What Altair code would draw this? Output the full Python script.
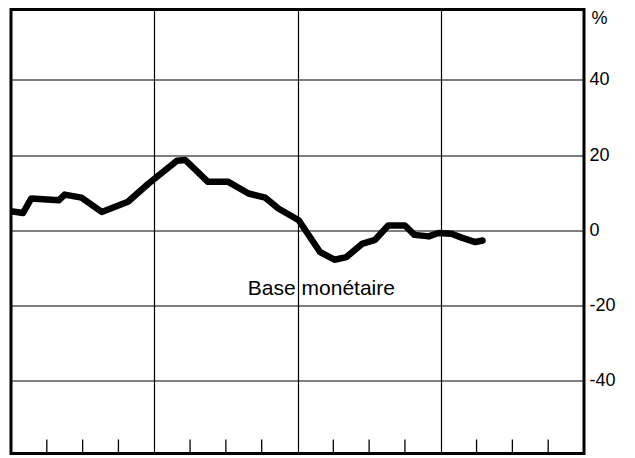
import altair as alt
import pandas as pd

# Time position (months from start of the 4-year span) and 12-month change, %
months = [0, 1.0, 1.7, 4.0, 4.5, 5.9, 7.6, 9.8, 11.5, 13.9, 14.6, 16.5, 18.2, 19.9,
          21.3, 22.4, 24.1, 25.9, 27.1, 28.1, 29.4, 30.5, 31.6, 33.0, 33.8, 35.0,
          35.8, 36.9, 37.8, 38.9, 39.5]
base_monetaire = [5.1, 4.6, 8.5, 8.0, 9.5, 8.7, 4.9, 7.6, 12.4, 18.5, 18.7, 12.9, 12.9, 9.8,
                  8.7, 5.8, 2.7, -5.8, -7.8, -7.1, -3.6, -2.5, 1.3, 1.3, -1.2, -1.6,
                  -0.7, -0.9, -2.0, -3.1, -2.7]

year_lines = [12, 24, 36]
quarter_ticks = [3, 6, 9, 15, 18, 21, 27, 30, 33, 39, 42, 45]
y_ticks = [-40, -20, 0, 20, 40]
label_text = ["Base monétaire"]
label_x = [26.0]
label_y = [-17.1]

W, H = 573, 444
FONT = "Liberation Sans"

x_scale = alt.Scale(domain=[0, 48], nice=False, zero=False)
y_scale = alt.Scale(domain=[-59.3, 58.7], nice=False, zero=False)

x_axis = alt.Axis(values=year_lines, grid=True, labels=False, ticks=False, domain=False,
                  title=None, gridColor="black", gridWidth=1.2, gridOpacity=1)
y_axis = alt.Axis(orient="right", values=y_ticks, grid=True, ticks=False, domain=False,
                  gridColor="black", gridWidth=1.2, gridOpacity=1,
                  labelExpr="datum.value + ''", labelAlign="left", labelPadding=5,
                  labelFont=FONT, labelFontSize=18, labelColor="black",
                  title="%", titleAngle=0, titleX=7, titleY=9, titleAlign="left",
                  titleBaseline="middle", titleFont=FONT, titleFontSize=18,
                  titleFontWeight="normal", titleColor="black")

df = pd.DataFrame({"m": months, "v": base_monetaire})
ticks_df = pd.DataFrame({"m": quarter_ticks})
lab_df = pd.DataFrame({"t": label_text, "m": label_x, "v": label_y})

line = alt.Chart(df).mark_line(
    color="black", strokeWidth=6.5, strokeJoin="round", strokeCap="round", clip=True
).encode(
    x=alt.X("m:Q", scale=x_scale, axis=x_axis),
    y=alt.Y("v:Q", scale=y_scale, axis=y_axis),
)

qticks = alt.Chart(ticks_df).mark_rule(color="black", strokeWidth=1.3).encode(
    x=alt.X("m:Q", scale=x_scale, axis=x_axis),
    y=alt.value(H),
    y2=alt.value(H - 14),
)

label = alt.Chart(lab_df).mark_text(
    font=FONT, fontSize=21, color="black", align="center", baseline="alphabetic"
).encode(
    x=alt.X("m:Q", scale=x_scale, axis=x_axis),
    y=alt.Y("v:Q", scale=y_scale, axis=y_axis),
    text="t:N",
)

chart = alt.layer(line, qticks, label).properties(
    width=W, height=H,
    autosize=alt.AutoSizeParams(type="none"),
    padding={"left": 3, "top": 1.5, "right": 40, "bottom": 2},
    background="white",
).configure_view(stroke="black", strokeWidth=3)

chart.save("out.html", embed_options={"renderer": "svg", "actions": False})
